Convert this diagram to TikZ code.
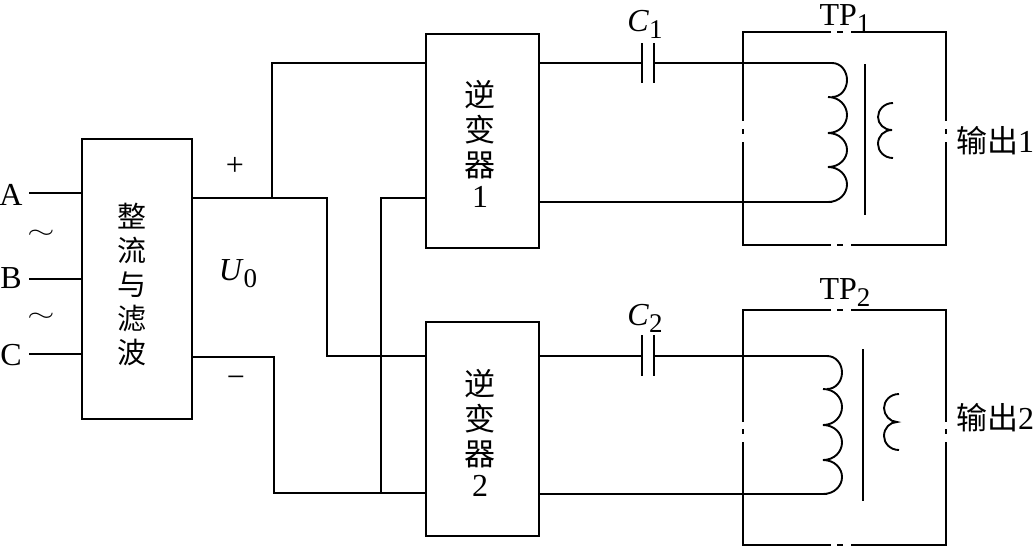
\documentclass[tikz,border=0pt]{standalone}
\usepackage{fontspec}
\setmainfont{Liberation Serif}
\newfontfamily\cjk{Noto Sans CJK SC}
\newcommand{\lowidx}[1]{\raisebox{-7pt}{\fontsize{27}{27}\selectfont #1}}
% one half-loop of a winding, bulging towards the given x
\newcommand{\windbump}[4]{(#1,#2) .. controls ({#1+0.6*(#3-#1)},#2) and (#3,{#2+0.24*(#4-#2)}) .. (#3,{(#2+#4)/2}) .. controls (#3,{#4-0.24*(#4-#2)}) and ({#1+0.6*(#3-#1)},#4) .. (#1,#4)}
\tikzset{
  wire/.style={line width=1.9pt,line cap=butt,line join=miter},
  blockbox/.style={draw,line width=2.2pt,minimum width=#1,inner sep=0pt,outer sep=0pt},
  tpframe/.style={line width=2.1pt},
  lab/.style={inner sep=0pt,anchor=base,font=\fontsize{32}{34}\selectfont},
  tilde/.style={inner sep=0pt},
  cjklab/.style={inner sep=0pt,font=\fontsize{29}{35}\selectfont\cjk,align=center},
  invlab/.style={inner sep=0pt,font=\fontsize{31}{35}\selectfont\cjk,align=center},
}
\newcommand{\digit}[1]{{\fontspec{Liberation Serif}\fontsize{32}{35}\selectfont #1}}
\begin{document}
\begin{tikzpicture}[x=1pt,y=-1pt]
\useasboundingbox (0,0) rectangle (1036,547);

% functional blocks
\node[blockbox=110pt,minimum height=280pt] (rect) at (137,279) {};
\node[blockbox=113pt,minimum height=214pt] (inva) at (482.5,141) {};
\node[blockbox=113pt,minimum height=214pt] (invb) at (482.5,429) {};
\node[cjklab] (recttxt) at (131.5,285) {整\\[-1pt]流\\[-1pt]与\\[-1pt]滤\\[-1pt]波};
\node[invlab] (invatxt) at (480,144) {逆\\变\\器\\[-4pt]\digit{1}};
\node[invlab] (invbtxt) at (480,433) {逆\\变\\器\\[-4pt]\digit{2}};

% three-phase input
\node[lab] (pa) at (11,205) {A};
\node[lab] (pb) at (11,288) {B};
\node[lab] (pc) at (11,365) {C};
\node[tilde] (tila) at (41,234) {\scalebox{3.5}[2.3]{$\sim$}};
\node[tilde] (tilb) at (41,317) {\scalebox{3.5}[2.3]{$\sim$}};
\coordinate (ina) at (29,193);
\coordinate (inb) at (29,279);
\coordinate (inc) at (29,354);
\draw[wire] (ina) -- (ina -| rect.west);
\draw[wire] (inb) -- (inb -| rect.west);
\draw[wire] (inc) -- (inc -| rect.west);

% DC bus
\node[lab] (plus) at (235,175) {+};
\node[lab] (minus) at (236,387) {\textminus};
\node[lab] (uo) at (238,280) {\textit{U}\lowidx{0}};
\coordinate (pout) at (192,198);
\coordinate (mout) at (192,357);
\coordinate (pj) at (272,198);
\coordinate (mj) at (381,493);
\coordinate (atop) at (426,63);
\coordinate (abot) at (426,198);
\coordinate (btop) at (426,356);
\coordinate (bbot) at (426,493);
\draw[wire] (pout) -- (327,198) -- (327,356) -- (btop);
\draw[wire] (pj) -- (pj |- atop) -- (atop);
\draw[wire] (mout) -- (274,357) -- (274,493) -- (bbot);
\draw[wire] (mj) -- (mj |- abot) -- (abot);

% outputs and series capacitors
\coordinate (caa) at (642,63);
\coordinate (cab) at (654,63);
\coordinate (cba) at (642,356);
\coordinate (cbb) at (654,356);
\coordinate (wat) at (832,63);
\coordinate (wab) at (832,202);
\coordinate (wbt) at (827,356);
\coordinate (wbb) at (827,494);
\draw[wire] (inva.east |- caa) -- (caa);
\draw[wire] (cab) -- (wat);
\draw[wire] (inva.east |- wab) -- (wab);
\draw[wire] (invb.east |- cba) -- (cba);
\draw[wire] (cbb) -- (wbt);
\draw[wire] (invb.east |- wbb) -- (wbb);
\draw[wire] (642,43) -- (642,83);
\draw[wire] (654,43) -- (654,83);
\draw[wire] (642,335) -- (642,376);
\draw[wire] (654,335) -- (654,376);
\node[lab] (ca) at (645,31) {\textit{C}\lowidx{1}};
\node[lab] (cb) at (645,325) {\textit{C}\lowidx{2}};

% transformer TP1 enclosure, broken by the centre marks
\draw[tpframe] (831,32) -- (743,32) -- (743,121);
\draw[tpframe] (851,32) -- (946,32) -- (946,121);
\draw[tpframe] (743,142) -- (743,245) -- (831,245);
\draw[tpframe] (946,142) -- (946,245) -- (851,245);
\draw[tpframe] (837,32) -- (843,32);
\draw[tpframe] (837,245) -- (843,245);
\draw[tpframe] (743,129) -- (743,134);
\draw[tpframe] (946,129) -- (946,134);

% transformer TP2 enclosure
\draw[tpframe] (831,310) -- (743,310) -- (743,422);
\draw[tpframe] (851,310) -- (946,310) -- (946,422);
\draw[tpframe] (743,442) -- (743,545) -- (831,545);
\draw[tpframe] (946,442) -- (946,545) -- (851,545);
\draw[tpframe] (837,310) -- (843,310);
\draw[tpframe] (837,545) -- (843,545);
\draw[tpframe] (743,429) -- (743,434);
\draw[tpframe] (946,429) -- (946,434);

% TP1 windings and core
\draw[wire] \windbump{832}{63}{847}{97};
\draw[wire] \windbump{828}{97}{847}{133};
\draw[wire] \windbump{828}{133}{847}{167};
\draw[wire] \windbump{828}{167}{847}{202};
\draw[wire] (865,64) -- (865,215);
\draw[wire] (893,103) .. controls (884,103) and (878,110) .. (878,117) .. controls (878,124) and (884,130) .. (892,130) .. controls (884,130) and (878,136) .. (878,144) .. controls (878,151) and (884,158) .. (893,158);

% TP2 windings and core
\draw[wire] \windbump{827}{356}{842}{389};
\draw[wire] \windbump{823}{389}{842}{425};
\draw[wire] \windbump{823}{425}{842}{460};
\draw[wire] \windbump{823}{460}{842}{494};
\draw[wire] (863,349) -- (863,501);
\draw[wire] (899,394) .. controls (890,394) and (884,401) .. (884,408) .. controls (884,415) and (890,422) .. (897,422) .. controls (890,422) and (884,428) .. (884,436) .. controls (884,443) and (890,450) .. (899,450);

\node[lab] (tpa) at (845,25) {TP\lowidx{1}};
\node[lab] (tpb) at (845,299) {TP\lowidx{2}};
\node[invlab] (outa) at (995,141) {输出\digit{1}};
\node[invlab] (outb) at (995,418) {输出\digit{2}};
\end{tikzpicture}
\end{document}
